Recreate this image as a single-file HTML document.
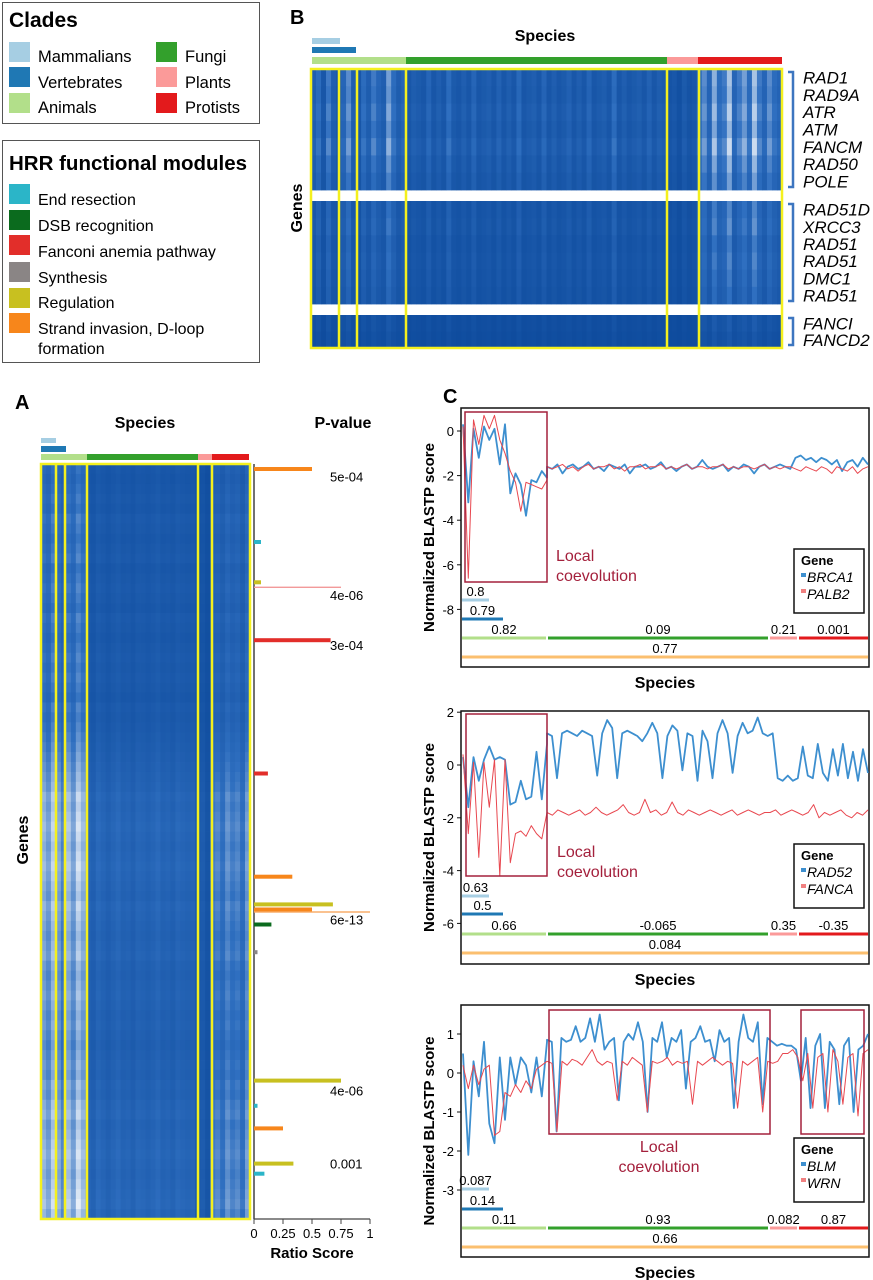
<!DOCTYPE html>
<html><head><meta charset="utf-8">
<style>
html,body{margin:0;padding:0;background:#fff;}
svg{display:block;font-family:"Liberation Sans",Arial,sans-serif;}
.b{font-weight:bold}
.i{font-style:italic}
</style></head>
<body>
<svg id="fig" width="873" height="1280" viewBox="0 0 873 1280" xmlns="http://www.w3.org/2000/svg">
<g>
<rect x="2.5" y="2.5" width="257" height="121" fill="#fff" stroke="#555" stroke-width="1"/>
<text x="9" y="27" font-size="21" class="b">Clades</text>
<rect x="9" y="42" width="21" height="20" fill="#a6cee3"/><text x="38" y="62" font-size="16.5">Mammalians</text>
<rect x="9" y="67" width="21" height="20" fill="#1f78b4"/><text x="38" y="88" font-size="16.5">Vertebrates</text>
<rect x="9" y="93" width="21" height="20" fill="#b2df8a"/><text x="38" y="113" font-size="16.5">Animals</text>
<rect x="156" y="42" width="21" height="20" fill="#33a02c"/><text x="185" y="62" font-size="16.5">Fungi</text>
<rect x="156" y="67" width="21" height="20" fill="#fb9a99"/><text x="185" y="88" font-size="16.5">Plants</text>
<rect x="156" y="93" width="21" height="20" fill="#e31a1c"/><text x="185" y="113" font-size="16.5">Protists</text>
</g>
<g>
<rect x="2.5" y="140.5" width="257" height="222" fill="#fff" stroke="#555" stroke-width="1"/>
<text x="9" y="170" font-size="20.5" class="b">HRR functional modules</text>
<rect x="9" y="184" width="21" height="20" fill="#2bb5c8"/><text x="38" y="205" font-size="16">End resection</text>
<rect x="9" y="210" width="21" height="20" fill="#0b6b1e"/><text x="38" y="231" font-size="16">DSB recognition</text>
<rect x="9" y="235" width="21" height="20" fill="#e22e2a"/><text x="38" y="257" font-size="16">Fanconi anemia pathway</text>
<rect x="9" y="262" width="21" height="20" fill="#8a8585"/><text x="38" y="283" font-size="16">Synthesis</text>
<rect x="9" y="288" width="21" height="20" fill="#c8c020"/><text x="38" y="308" font-size="16">Regulation</text>
<rect x="9" y="313" width="21" height="20" fill="#f7861b"/><text x="38" y="334" font-size="16">Strand invasion, D-loop</text>
<text x="38" y="354" font-size="16">formation</text>
</g>
<g id="gB"></g>
<g id="gA"></g>
<g id="gC"></g>
</svg>
<script>
// ---------- DATA ----------
const colB = [0.3,0.5,0.2,0.6,0.3,0.2,0.4,0.7,0.3,0.2,0.5,0.3,0.6,0.4,0.3,0.8,0.5,0.3,0.4,
 0.2,0.3,0.25,0.2,0.4,0.2,0.3,0.2,0.5,0.25,0.2,0.3,0.2,0.4,0.2,0.25,0.3,0.2,0.35,0.2,0.3,0.2,0.45,0.2,0.25,0.3,0.2,0.4,0.2,0.3,0.2,0.25,0.35,0.2,0.3,0.2,0.4,0.2,0.25,0.3,0.2,0.5,0.2,0.3,0.2,0.25,0.3,0.2,0.35,0.2,0.3,0.25,
 0.15,0.2,0.1,0.25,0.15,0.2,
 0.5,0.7,0.4,0.9,0.5,0.6,1.0,0.4,0.6,0.8,0.5,1.0,0.6,0.4,0.7,0.5,0.4];
const geneB = [0.75,0.7,0.8,0.7,0.85,0.7,0.6, 0.5,0.55,0.45,0.5,0.45,0.4, 0.2,0.15];
const geneNamesB = ["RAD1","RAD9A","ATR","ATM","FANCM","RAD50","POLE","RAD51D","XRCC3","RAD51","RAD51","DMC1","RAD51","FANCI","FANCD2"];
const colA = [0.7,0.6,0.8,0.65,0.5,0.75,0.6,0.85,0.7, 0.3,0.25,0.35,0.3,0.25,0.3,0.35,0.28,0.3,0.25,0.32,0.3,0.27,0.3,0.35,0.28,0.3,0.26,0.33,0.3,0.28,0.3, 0.15,0.2,0.12, 0.45,0.5,0.4,0.55,0.45,0.5,0.4,0.6];
const rowA = [0.5,0.45,0.5,0.55,0.5,0.6,0.55,0.5,0.55,0.6,0.5,0.55,0.6,0.55,0.5,0.6,0.55,0.5,0.55,0.6,0.55,0.6,0.55,0.5,0.6,0.55,0.6,0.65,0.7,0.75,0.8,0.85,0.9,1.0,0.95,1.0,1.05,1.0,0.95,1.0,1.05,1.0,0.95,0.9,1.0,0.95,0.9,0.85,0.9,0.95,0.85,0.8,0.85,0.9,0.85,0.8,0.85,0.8,0.75,0.8,0.85,0.8,0.9,0.85,0.95,1.0,0.9,0.95,1.0,1.05,1.0,0.95,1.0,1.05,1.1,1.0];
const barGene  = [2,31,47,49,70,123,164,175,177,178,183,194,245,255,264,278,282];
const barRatio = [0.5,0.06,0.06,0.75,0.66,0.12,0.33,0.68,0.5,1.0,0.15,0.03,0.75,0.03,0.25,0.34,0.09];
const barModule = ["strand","end","reg","fathin","fa","fa","strand","reg","strand","strandthin","dsb","syn","reg","end","strand","reg","end"];
const pvalLabels = ["5e-04","4e-06","3e-04","6e-13","4e-06","0.001"];
const pvalGene = [5,52,72,181,249,278];
const ratioTicks = [0,0.25,0.5,0.75,1];
const p1Blue = [0.3,-3.2,0.1,-1.2,0.2,-0.4,0.1,-1.5,0.3,-2.8,-1.9,-2.4,-3.8,-2.2,-2.3,-1.8,-2.1,
 -1.6,-1.7,-1.5,-1.9,-1.6,-1.5,-1.7,-1.6,-1.4,-1.7,-1.6,-1.8,-1.5,-1.6,-1.7,-1.5,-1.9,-1.6,-1.6,-1.5,-1.7,-1.6,-1.4,-1.7,-1.6,-1.8,-1.6,-1.5,-1.7,-1.6,-1.3,-1.6,-1.7,-1.6,-1.5,-1.8,-1.6,-1.7,-1.5,-1.6,-1.9,-1.6,-1.5,-1.7,-1.6,-1.5,-1.6,-1.7,-1.2,-1.1,-1.3,-1.2,-1.4,-1.2,-1.3,-1.5,-1.3,-1.8,-1.4,-1.3,-1.6,-1.2,-1.5];
const p1Red = [0.2,-6.6,0.5,-0.6,0.7,0.1,0.7,-0.4,-1.0,-1.8,-2.3,-3.6,-2.3,-2.4,-2.5,-2.6,-2.2,
 -1.6,-1.7,-1.6,-1.5,-1.7,-1.6,-1.8,-1.6,-1.5,-1.7,-1.6,-1.6,-1.5,-1.7,-1.6,-1.8,-1.6,-1.6,-1.5,-1.7,-1.6,-1.6,-1.5,-1.7,-1.6,-1.7,-1.6,-1.5,-1.7,-1.6,-1.6,-1.7,-1.6,-1.6,-1.5,-1.7,-1.6,-1.7,-1.6,-1.6,-1.7,-1.6,-1.5,-1.7,-1.6,-1.7,-1.6,-1.6,-1.7,-1.8,-1.6,-1.7,-1.8,-1.6,-1.7,-1.9,-1.6,-1.7,-1.8,-1.6,-1.9,-1.7,-1.6];
const p2Blue = [0.3,-1.6,0.3,-0.6,0.2,0.7,0.2,0.3,0.2,-1.5,-1.4,-0.6,-1.3,-1.2,0.5,-1.3,0.8,
 1.2,1.1,-0.5,1.2,1.3,1.2,1.1,1.3,1.2,1.1,-0.4,1.2,1.7,1.4,-0.5,1.2,1.3,1.2,1.1,0.9,1.2,1.6,1.2,-0.5,1.1,1.5,1.3,-0.2,1.2,1.1,-0.6,1.3,0.9,-0.5,1.2,1.7,1.2,-0.3,1.1,1.6,1.2,1.3,1.8,1.2,1.1,1.2,-0.5,-0.6,-0.4,-0.6,-0.5,0.7,-0.4,-0.5,0.8,-0.3,-0.6,0.6,-0.4,0.8,-0.5,0.5,-0.6,0.6,-0.3];
const p2Red = [0.4,-2.6,0.1,-3.5,0.1,-1.6,0.2,-4.2,0.2,-3.7,-2.6,-2.5,-2.7,-2.3,-2.6,-2.8,-1.8,
 -1.8,-1.9,-1.7,-1.8,-1.9,-1.8,-1.7,-1.9,-1.8,-1.6,-1.8,-1.9,-1.8,-1.7,-1.5,-1.8,-1.9,-1.8,-1.3,-1.8,-1.7,-1.9,-1.8,-1.4,-1.8,-1.9,-1.7,-1.8,-1.9,-1.8,-1.7,-1.8,-1.9,-1.8,-1.7,-1.9,-1.8,-1.7,-1.8,-1.9,-1.8,-1.8,-1.7,-1.9,-1.8,-1.7,-1.8,-1.9,-1.8,-1.5,-2.0,-1.8,-1.9,-1.8,-1.7,-1.9,-2.0,-1.8,-1.9,-1.7];
const p3Blue = [0.5,-2.1,0.3,-0.6,0.8,-1.3,-1.8,0.4,-1.2,0.4,-0.3,0.4,0.2,-0.5,0.4,-0.6,0.8,
 0.85,0.8,-1.5,0.9,0.8,0.85,1.2,0.8,0.9,1.4,0.8,1.5,0.6,0.8,0.9,-0.7,0.8,1.0,0.85,1.3,0.8,-1.0,0.9,0.8,1.3,0.4,0.9,0.8,1.1,-0.4,0.8,0.9,1.2,0.8,0.85,0.3,1.1,0.8,0.9,-0.9,0.8,1.5,0.9,0.8,1.3,-0.8,0.9,0.8,0.7,0.75,0.7,0.7,0.6,-0.2,0.9,-0.9,0.7,1.0,-0.9,0.8,0.6,-0.8,0.7,0.9,-1.0,0.6,0.7,1.0];
const p3Red = [0.2,-0.4,0.2,-0.3,0.1,0.2,-1.6,-1.5,-0.5,-0.6,-0.3,-0.5,-0.2,-0.4,0.1,0.2,0.3,
 0.3,0.25,-1.5,0.3,0.2,0.35,0.3,0.2,0.4,0.6,0.3,0.2,0.3,0.25,-0.7,0.3,0.2,0.4,0.3,0.2,-1.0,0.3,0.25,0.3,0.4,0.2,0.3,0.25,0.3,-0.8,0.3,0.2,0.3,0.4,0.3,0.2,0.3,0.25,-0.9,0.3,0.2,0.3,0.4,-1.0,0.3,0.25,0.3,0.5,0.5,0.6,0.4,-0.2,0.5,-0.9,0.4,0.5,-1.0,0.6,0.3,-0.8,0.4,0.5,-1.1,0.5,0.6];
const p1Ticks = [0,-2,-4,-6,-8];
const p2Ticks = [2,0,-2,-4,-6];
const p3Ticks = [1,0,-1,-2,-3];
const p1Corr = ["0.8","0.79","0.82","0.09","0.21","0.001","0.77"];
const p2Corr = ["0.63","0.5","0.66","-0.065","0.35","-0.35","0.084"];
const p3Corr = ["0.087","0.14","0.11","0.93","0.082","0.87","0.66"];
const p1Genes = ["BRCA1","PALB2"];
const p2Genes = ["RAD52","FANCA"];
const p3Genes = ["BLM","WRN"];

// ---------- HELPERS ----------
const NS="http://www.w3.org/2000/svg";
function mk(parent,tag,attrs,txt){const e=document.createElementNS(NS,tag);for(const k in attrs)e.setAttribute(k,attrs[k]);if(txt!==undefined)e.textContent=txt;parent.appendChild(e);return e;}
function lerp(a,b,t){return a+(b-a)*t;}
function heatColor(v){v=Math.max(0,Math.min(1,v));
 const c0=[13,74,156],c1=[47,111,192],c2=[255,255,255];let r,g,b;
 if(v<0.4){const t=v/0.4;r=lerp(c0[0],c1[0],t);g=lerp(c0[1],c1[1],t);b=lerp(c0[2],c1[2],t);}
 else{const t=(v-0.4)/0.6;r=lerp(c1[0],c2[0],t);g=lerp(c1[1],c2[1],t);b=lerp(c1[2],c2[2],t);}
 return `rgb(${r|0},${g|0},${b|0})`;}
const CL={mam:"#a6cee3",vert:"#1f78b4",ani:"#b2df8a",fun:"#33a02c",pla:"#fb9a99",pro:"#e31a1c"};
const MOD={strand:"#f7861b",strandthin:"#f7a860",end:"#2bb5c8",reg:"#c8c020",fa:"#e22e2a",fathin:"#f29a9a",dsb:"#0b6b1e",syn:"#8a8585"};

// ---------- PANEL B ----------
const gB=document.getElementById('gB');
mk(gB,'text',{x:290,y:24,'font-size':20,'class':'b'},'B');
mk(gB,'text',{x:545,y:41,'font-size':16,'class':'b','text-anchor':'middle'},'Species');
const gl=mk(gB,'text',{x:0,y:0,'font-size':16,'class':'b','text-anchor':'middle',transform:'translate(302,208) rotate(-90)'},'Genes');

[[312,340,38,44,CL.mam],[312,356,47,53,CL.vert],[312,406,57,64,CL.ani],[406,667,57,64,CL.fun],[667,698,57,64,CL.pla],[698,782,57,64,CL.pro]].forEach(b=>{
 const r=mk(gB,'rect',{x:b[0],y:b[2],width:b[1]-b[0],height:b[3]-b[2],fill:b[4]});
 });
const bX0=311,bX1=782;const bGroups=[[69,190,0,7],[201,304,7,6],[315,348,13,2]];
const cwB=(bX1-bX0)/colB.length;
bGroups.forEach(gr=>{const rh=(gr[1]-gr[0])/gr[3];
 for(let g=0;g<gr[3];g++){for(let c=0;c<colB.length;c++){
  const cell=mk(gB,'rect',{x:(bX0+c*cwB).toFixed(2),y:(gr[0]+g*rh).toFixed(2),width:(cwB+0.4).toFixed(2),height:(rh+0.4).toFixed(2),fill:heatColor(colB[c]*geneB[gr[2]+g])});
  
  }}
 const br=mk(gB,'path',{d:`M788,${gr[0]+3}H793V${gr[1]-3}H788`,fill:'none',stroke:'#3d76c0','stroke-width':2.5});
 
 for(let g=0;g<gr[3];g++){const t=mk(gB,'text',{x:803,y:(gr[0]+((g+0.5)*(gr[1]-gr[0])/gr[3])+6).toFixed(1),'font-size':17,'class':'i'},geneNamesB[gr[2]+g]);
  }
});
mk(gB,'rect',{x:bX0,y:69,width:bX1-bX0,height:279,fill:'none',stroke:'#f4f01e','stroke-width':2.5});
[339,357,406,667,699].forEach(x=>mk(gB,'line',{x1:x,x2:x,y1:69,y2:348,stroke:'#f4f01e','stroke-width':2.5}));

// ---------- PANEL A ----------
const gA=document.getElementById('gA');
mk(gA,'text',{x:15,y:409,'font-size':20,'class':'b'},'A');
mk(gA,'text',{x:145,y:428,'font-size':16,'class':'b','text-anchor':'middle'},'Species');
mk(gA,'text',{x:343,y:428,'font-size':16,'class':'b','text-anchor':'middle'},'P-value');
mk(gA,'text',{x:0,y:0,'font-size':16,'class':'b','text-anchor':'middle',transform:'translate(28,840) rotate(-90)'},'Genes');
[[41,56,438,443,CL.mam],[41,66,446,452,CL.vert],[41,87,454,460,CL.ani],[87,198,454,460,CL.fun],[198,212,454,460,CL.pla],[212,249,454,460,CL.pro]].forEach(b=>{
 const r=mk(gA,'rect',{x:b[0],y:b[2],width:b[1]-b[0],height:b[3]-b[2],fill:b[4]});
 });
const aX0=41,aX1=250,aY0=464,aY1=1219;
const cwA=(aX1-aX0)/colA.length,rhA=(aY1-aY0)/rowA.length;
for(let r=0;r<rowA.length;r++)for(let c=0;c<colA.length;c++){
 const cell=mk(gA,'rect',{x:(aX0+c*cwA).toFixed(2),y:(aY0+r*rhA).toFixed(2),width:(cwA+0.4).toFixed(2),height:(rhA+0.4).toFixed(2),fill:heatColor(colA[c]*rowA[r])});
 
 }
mk(gA,'rect',{x:aX0,y:aY0,width:aX1-aX0,height:aY1-aY0,fill:'none',stroke:'#f4f01e','stroke-width':2.5});
[56,65,87,198,212].forEach(x=>mk(gA,'line',{x1:x,x2:x,y1:aY0,y2:aY1,stroke:'#f4f01e','stroke-width':2.5}));
const rx0=254,rx1=370;const rxs=v=>rx0+v*(rx1-rx0);const gys=g=>aY0+g/300*(aY1-aY0);
mk(gA,'line',{x1:rx0,x2:rx0,y1:aY0,y2:aY1,stroke:'#444','stroke-width':1.5});
mk(gA,'line',{x1:rx0,x2:rx1,y1:aY1,y2:aY1,stroke:'#444','stroke-width':1.2});
ratioTicks.forEach(t=>{mk(gA,'line',{x1:rxs(t),x2:rxs(t),y1:aY1,y2:aY1+5,stroke:'#444'});
 const tl=mk(gA,'text',{x:rxs(t),y:1238,'font-size':13,'text-anchor':'middle'},String(t));
 });
mk(gA,'text',{x:312,y:1258,'font-size':15,'class':'b','text-anchor':'middle'},'Ratio Score');
barGene.forEach((g,i)=>{const thin=barModule[i].indexOf('thin')>=0;
 const r=mk(gA,'rect',{x:rx0,y:(gys(g)-(thin?0.7:2)).toFixed(1),width:(rxs(barRatio[i])-rx0).toFixed(1),height:thin?1.4:4,fill:MOD[barModule[i]]});
 });
pvalGene.forEach((g,i)=>{const t=mk(gA,'text',{x:330,y:(gys(g)+5).toFixed(1),'font-size':13},pvalLabels[i]);
 });

// ---------- PANEL C ----------
const gC=document.getElementById('gC');
mk(gC,'text',{x:443,y:403,'font-size':20,'class':'b'},'C');
const BLUE="#3d8fcf",RED="#e8474f",LOC="#a4203c";
function plotC(name,cfg,blue,red,ticks,corr,genes){
 const g=mk(gC,'g',{});
 const X0=461,X1=869,XS=547,LN=17;
 const ys=v=>cfg.y0+(-v)*cfg.k;
 const xs=(i,n)=>i<LN? X0+2+i*(XS-X0-2)/(LN-1) : XS+(i-LN)*(X1-1-XS)/(n-1-LN);
 mk(g,'rect',{x:X0,y:cfg.top,width:X1-X0,height:cfg.bot-cfg.top,fill:'#fff',stroke:'#111','stroke-width':1.5});
 ticks.forEach(t=>{mk(g,'line',{x1:X0-4,x2:X0,y1:ys(t),y2:ys(t),stroke:'#111'});
  const tl=mk(g,'text',{x:X0-7,y:ys(t)+5,'font-size':13,'text-anchor':'end'},String(t));
  });
 const yt=mk(g,'text',{x:0,y:0,'font-size':15,'class':'b','text-anchor':'middle',transform:`translate(434,${(cfg.top+cfg.bot)/2}) rotate(-90)`},'Normalized BLASTP score');
 
 const xt=mk(g,'text',{x:665,y:cfg.bot+21,'font-size':16,'class':'b','text-anchor':'middle'},'Species');
 
 const line=(arr,col,w)=>{const p=arr.map((v,i)=>(i?'L':'M')+xs(i,arr.length).toFixed(1)+','+ys(v).toFixed(1)).join('');
  const l=mk(g,'path',{d:p,fill:'none',stroke:col,'stroke-width':w,'stroke-linejoin':'round'});
  };
 line(blue,BLUE,1.8);line(red,RED,1);
 cfg.boxes.forEach(b=>{const r=mk(g,'rect',{x:b[0],y:b[1],width:b[2]-b[0],height:b[3]-b[1],fill:'none',stroke:LOC,'stroke-width':1.5});
  });
 const lt=mk(g,'text',{x:cfg.lab[0],y:cfg.lab[1],'font-size':16,fill:LOC,'text-anchor':cfg.lab[2]},'Local');
 
 mk(g,'text',{x:cfg.lab[3],y:cfg.lab[1]+20,'font-size':16,fill:LOC,'text-anchor':cfg.lab[2]},'coevolution');
 const L=cfg.leg;const lg=mk(g,'g',{});
 mk(lg,'rect',{x:794,y:L,width:70,height:64,fill:'#fff',stroke:'#111','stroke-width':1.5});
 mk(lg,'text',{x:801,y:L+16,'font-size':13,'class':'b'},'Gene');
 mk(lg,'rect',{x:801,y:L+24,width:5,height:4,fill:BLUE});
 mk(lg,'text',{x:807,y:L+33,'font-size':14,'class':'i'},genes[0]);
 mk(lg,'rect',{x:801,y:L+40,width:5,height:4,fill:"#f08080"});
 mk(lg,'text',{x:807,y:L+50,'font-size':14,'class':'i'},genes[1]);
 const bars=[[X0,490,cfg.by[0],CL.mam],[X0,504,cfg.by[1],CL.vert],[X0,XS,cfg.by[2],CL.ani],[XS,769,cfg.by[2],CL.fun],[769,798,cfg.by[2],CL.pla],[798,X1,cfg.by[2],CL.pro],[X0,X1,cfg.by[3],"#fbbf6f"]];
 bars.forEach((b,i)=>{const r=mk(g,'rect',{x:b[0]+1,y:b[2]-1.5,width:b[1]-b[0]-2,height:3,fill:b[3]});
  
  const t=mk(g,'text',{x:(b[0]+b[1])/2,y:b[2]-4,'font-size':13,'text-anchor':'middle'},corr[i]);
  });
}
plotC('plot-brca1-palb2',{top:408,bot:667,y0:431,k:22.3,boxes:[[465,412,547,582]],lab:[556,561,'start',556],leg:549,by:[600,619,638,657]},p1Blue,p1Red,p1Ticks,p1Corr,p1Genes);
plotC('plot-rad52-fanca',{top:711,bot:964,y0:765,k:26.4,boxes:[[466,714,547,876]],lab:[557,857,'start',557],leg:844,by:[896,914,934,953]},p2Blue,p2Red,p2Ticks,p2Corr,p2Genes);
plotC('plot-blm-wrn',{top:1005,bot:1257,y0:1073,k:39,boxes:[[549,1010,770,1134],[801,1010,864,1134]],lab:[659,1152,'middle',659],leg:1138,by:[1189,1209,1228,1247]},p3Blue,p3Red,p3Ticks,p3Corr,p3Genes);
</script>
</body></html>
